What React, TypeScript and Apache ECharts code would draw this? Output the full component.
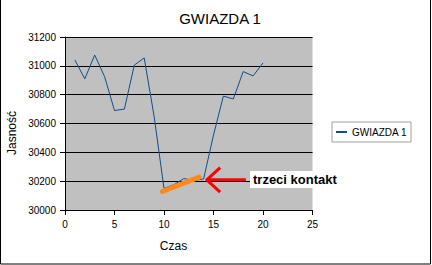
import React, { useEffect, useRef } from "react";
import * as echarts from "echarts";

const titleText = "GWIAZDA 1";
const seriesName = "GWIAZDA 1";
const xLabel = "Czas";
const yLabel = "Jasność";
const noteText = "trzeci kontakt";

const times = [1, 2, 3, 4, 5, 6, 7, 8, 9, 10, 11, 12, 13, 14, 15, 16, 17, 18, 19, 20];
const brightness = [31040, 30910, 31075, 30925, 30690, 30700, 31005, 31055, 30650, 30150, 30175, 30218, 30205, 30215, 30520, 30790, 30770, 30960, 30930, 31020];

// orange fitted segment (data coordinates)
const orangeSeg = [
  [9.84, 30128],
  [13.55, 30228],
];
// red arrow shaft and head (data coordinates)
const arrowShaft = [
  [18.27, 30209],
  [14.32, 30209],
];
const arrowHead = [
  [15.67, 30294],
  [14.32, 30209],
  [15.67, 30124],
];

const xMin = 0, xMax = 25, xStep = 5;
const yMin = 30000, yMax = 31200, yStep = 200;

export default function App() {
  const ref = useRef<HTMLDivElement>(null);
  useEffect(() => {
    document.body.style.margin = "0";
    const chart = echarts.init(ref.current!, null, { renderer: "svg" });
    const font = "'Liberation Sans', Arial, sans-serif";
    chart.setOption({
      animation: false,
      backgroundColor: "#ffffff",
      textStyle: { fontFamily: font },
      title: {
        text: titleText,
        left: 215,
        top: 6,
        textAlign: "center",
        textStyle: { fontSize: 15, fontWeight: "normal", color: "#000", fontFamily: font },
      },
      legend: {
        data: [seriesName],
        orient: "vertical",
        left: 332,
        top: 122,
        padding: [5, 4, 5, 4],
        itemWidth: 11,
        itemHeight: 2,
        icon: "rect",
        borderColor: "#a0a0a0",
        borderWidth: 1,
        backgroundColor: "#fff",
        textStyle: { fontSize: 10, color: "#000", fontFamily: font },
      },
      grid: { left: 65, top: 37, width: 247.5, height: 173, containLabel: false, backgroundColor: "#c0c0c0", show: true, borderWidth: 0 },
      xAxis: {
        type: "value",
        min: xMin,
        max: xMax,
        interval: xStep,
        axisLine: { show: true, lineStyle: { color: "#000", width: 1 } },
        axisTick: { show: true, length: 5, lineStyle: { color: "#000" } },
        axisLabel: { fontSize: 10, color: "#000", margin: 9, fontFamily: font },
        splitLine: { show: false },
      },
      yAxis: {
        type: "value",
        min: yMin,
        max: yMax,
        interval: yStep,
        axisLine: { show: true, lineStyle: { color: "#000", width: 1 } },
        axisTick: { show: true, length: 5, lineStyle: { color: "#000" } },
        axisLabel: { fontSize: 10, color: "#000", margin: 9, fontFamily: font, formatter: (v: number) => String(v) },
        splitLine: { show: true, lineStyle: { color: "#000", width: 1 } },
      },
      series: [
        {
          name: seriesName,
          type: "line",
          data: times.map((t, i) => [t, brightness[i]]),
          showSymbol: false,
          symbol: "none",
          itemStyle: { color: "#104e8b" },
          lineStyle: { color: "#104e8b", width: 1 },
          z: 2,
        },
        {
          name: "fit",
          type: "line",
          data: orangeSeg,
          symbol: "none",
          lineStyle: { color: "#ff8a1c", width: 5, cap: "round" },
          z: 3,
        },
        {
          name: "arrowShaft",
          type: "line",
          data: arrowShaft,
          symbol: "none",
          lineStyle: { color: "#ff0000", width: 3 },
          z: 3,
        },
        {
          name: "arrowHead",
          type: "line",
          data: arrowHead,
          symbol: "none",
          lineStyle: { color: "#ff0000", width: 3, join: "round" },
          z: 3,
        },
      ],
      graphic: [
        {
          type: "text",
          left: 250,
          top: 171,
          z: 10,
          style: {
            text: noteText,
            font: `bold 13px ${font}`,
            fill: "#000",
            backgroundColor: "#fff",
            padding: [2, 3, 2, 3],
          },
        },
        {
          type: "text",
          x: 12,
          y: 133,
          rotation: Math.PI / 2,
          style: {
            text: yLabel,
            font: `12px ${font}`,
            fill: "#000",
            align: "center",
            verticalAlign: "middle",
          },
        },
        {
          type: "text",
          x: 173.5,
          y: 246,
          style: {
            text: xLabel,
            font: `12px ${font}`,
            fill: "#000",
            align: "center",
            verticalAlign: "middle",
          },
        },
        {
          type: "rect",
          shape: { x: 0.5, y: -2, width: 430, height: 266 },
          style: { fill: "none", stroke: "#000", lineWidth: 1 },
          z: 20,
        },
      ],
    });
    return () => chart.dispose();
  }, []);
  return <div ref={ref} style={{ width: 432, height: 265 }} />;
}
